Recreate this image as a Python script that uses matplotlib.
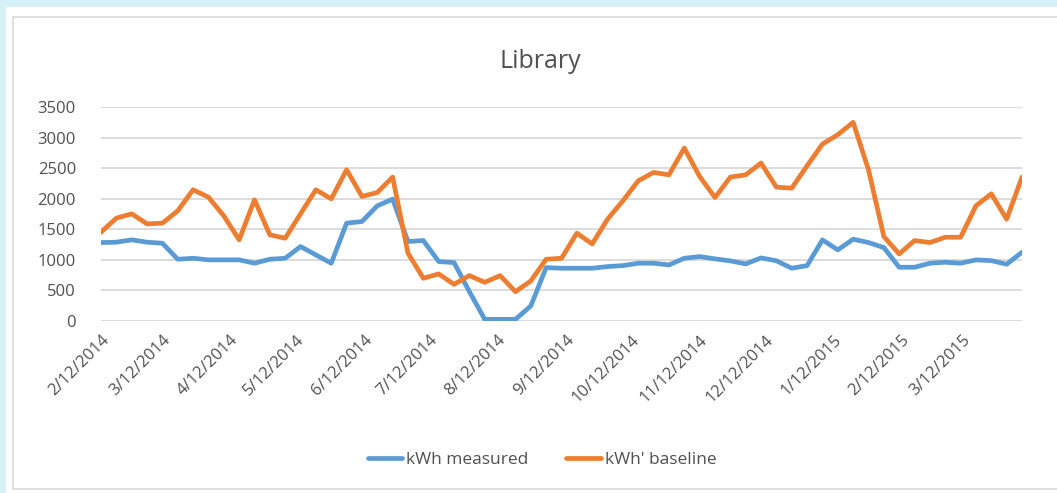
import numpy as np
import pandas as pd
import matplotlib
matplotlib.use("Agg")
import matplotlib.pyplot as plt
from matplotlib.patches import Rectangle

# weekly readings, starting 2/12/2014
start_date = "2014-02-12"
kwh_measured = [1283, 1289, 1327, 1289, 1272, 1010, 1026, 1000, 1000, 1000,
                945, 1010, 1026, 1218, 1081, 945, 1600, 1627, 1884, 1993,
                1300, 1316, 972, 955, 480, 27, 27, 27, 246, 874,
                863, 863, 863, 890, 906, 945, 945, 917, 1026, 1054,
                1016, 983, 934, 1032, 985, 863, 906, 1327, 1163, 1338,
                1283, 1201, 879, 879, 945, 961, 945, 999, 988, 928, 1125]
kwh_baseline = [1452, 1682, 1753, 1589, 1600, 1802, 2146, 2026, 1720, 1327,
                1982, 1409, 1354, 1753, 2146, 1998, 2473, 2037, 2102, 2353,
                1108, 699, 770, 600, 743, 633, 743, 480, 655, 1010,
                1026, 1436, 1261, 1665, 1966, 2293, 2430, 2391, 2828, 2364,
                2020, 2353, 2391, 2583, 2189, 2173, 2539, 2894, 3047, 3249,
                2473, 1381, 1097, 1316, 1283, 1370, 1370, 1884, 2080, 1665, 2353]
tick_labels = ["2/12/2014", "3/12/2014", "4/12/2014", "5/12/2014", "6/12/2014",
               "7/12/2014", "8/12/2014", "9/12/2014", "10/12/2014", "11/12/2014",
               "12/12/2014", "1/12/2015", "2/12/2015", "3/12/2015"]
y_ticks = [0, 500, 1000, 1500, 2000, 2500, 3000, 3500]

dates = pd.date_range(start=start_date, periods=len(kwh_measured), freq="7D")
tick_dates = pd.to_datetime(tick_labels, format="%m/%d/%Y")

plt.rcParams["font.family"] = ["Open Sans", "DejaVu Sans"]
grey_text = "#505050"

fig = plt.figure(figsize=(10.57, 4.93), dpi=100, facecolor="#d5f1f7")
W, H = 1057.0, 493.0
# white panel and the chart border (behind the axes)
fig.patches.append(Rectangle((6 / W, 0), 1, 1 - 7 / H, transform=fig.transFigure,
                             facecolor="white", edgecolor="none", zorder=-2))
fig.patches.append(Rectangle((13 / W, 4 / H), 1, 1 - 21 / H, transform=fig.transFigure,
                             facecolor="white", edgecolor="#d9d9d9", lw=1.2, zorder=-1))

ax = fig.add_axes([101 / W, 1 - 321 / H, 921 / W, 214 / H])
ax.set_facecolor("none")
ax.plot(dates, kwh_measured, color="#5b9bd5", lw=3.4, label="kWh measured",
        solid_joinstyle="round", solid_capstyle="round")
ax.plot(dates, kwh_baseline, color="#ed7d31", lw=3.4, label="kWh' baseline",
        solid_joinstyle="round", solid_capstyle="round")

ax.set_xlim(dates[0], dates[-1])
ax.set_ylim(0, 3500)
ax.set_yticks(y_ticks)
ax.set_yticklabels([str(v) for v in y_ticks])
ax.set_xticks(tick_dates)
ax.set_xticklabels(tick_labels, rotation=45, ha="right", rotation_mode="anchor")
ax.tick_params(length=0, colors=grey_text, labelsize=12)
ax.tick_params(axis="y", pad=18)
ax.tick_params(axis="x", pad=8)
ax.grid(axis="y", color="#d9d9d9", lw=1.3)
ax.set_axisbelow(True)
for s in ax.spines.values():
    s.set_visible(False)

fig.text(540 / W, 1 - 61 / H, "Library", ha="center", va="center",
         fontsize=18, color=grey_text)

handles, labels = ax.get_legend_handles_labels()
fig.legend(handles, labels, loc="center", bbox_to_anchor=(542 / W, 1 - 460 / H),
           ncol=2, frameon=False, fontsize=12.5, labelcolor=grey_text,
           handlelength=2.0, handletextpad=0.2, columnspacing=2.2)

fig.savefig("out.png", dpi=100, facecolor=fig.get_facecolor())
